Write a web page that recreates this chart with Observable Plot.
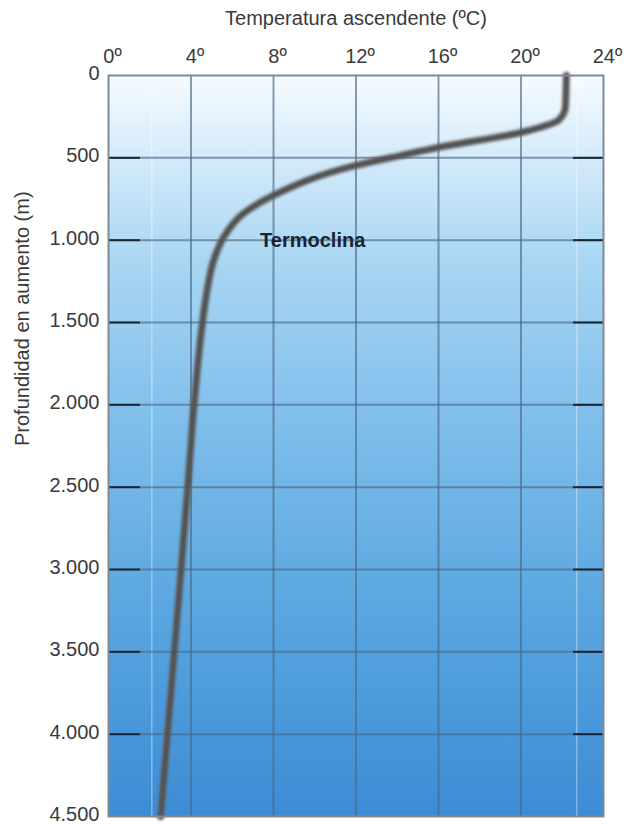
<!DOCTYPE html>
<html>
<head>
<meta charset="utf-8">
<script src="https://cdn.jsdelivr.net/npm/d3@7"></script>
<script src="https://cdn.jsdelivr.net/npm/@observablehq/plot@0.6"></script>
<style>
  html, body { margin: 0; padding: 0; background: #fff; }
  #chart svg { display: block; }
</style>
</head>
<body>
<div id="chart"></div>
<script>
// ---- data ----
const temperature = [22.2, 22.15, 21.8, 20.9, 20.0, 16.0, 14.2, 12.0, 8.0, 6.55, 5.58, 5.1, 4.78, 4.55, 4.40, 4.15, 3.84, 3.52, 3.19, 2.86, 2.53];
const depth       = [0, 194, 273, 316, 346, 437, 485, 546, 728, 837, 983, 1123, 1305, 1505, 1669, 2000, 2500, 3000, 3500, 4000, 4500];
const tempTicks = [0, 4, 8, 12, 16, 20, 24];
const depthTicks = [0, 500, 1000, 1500, 2000, 2500, 3000, 3500, 4000, 4500];
const tempGrid = [4, 8, 12, 16, 20];
const depthGrid = [500, 1000, 1500, 2000, 2500, 3000, 3500, 4000];
const faintLines = [2.1, 22.7];
const annotation = [{t: 7.35, d: 1000, label: "Termoclina"}];
const yTitle = ["Profundidad en aumento (m)"];
const gradientStops = [
  [0.00, "#f6fbff"],
  [0.25, "#a9d6f3"],
  [0.48, "#7dbdea"],
  [0.72, "#5aa6e0"],
  [1.00, "#3c8cd5"]
];

const profile = depth.map((d, i) => ({t: temperature[i], d}));
const esFmt = d3.formatLocale({decimal: ",", thousands: ".", grouping: [3], currency: ["", "€"]}).format(",");

const font = "'Liberation Sans', Arial, sans-serif";

const svg = Plot.plot({
  width: 634,
  height: 825,
  marginTop: 75,
  marginLeft: 108,
  marginRight: 31,
  marginBottom: 9,
  style: {fontFamily: font, fontSize: "20px", color: "#3a3a3a", background: "transparent"},
  x: {domain: [0, 24]},
  y: {domain: [0, 4500], reverse: true},
  marks: [
    Plot.frame({fill: "url(#seaGrad)", stroke: "none"}),
    Plot.ruleX(faintLines, {stroke: "#ffffff", strokeOpacity: 0.35, strokeWidth: 1.5}),
    Plot.ruleX(tempGrid, {stroke: "#4a6a86", strokeOpacity: 0.65, strokeWidth: 2}),
    Plot.ruleY(depthGrid, {stroke: "#4a6a86", strokeOpacity: 0.65, strokeWidth: 2}),
    Plot.axisY(depthGrid, {anchor: "left", tickSize: -32, tickFormat: () => "", stroke: "#1b2535", strokeWidth: 2, label: null}),
    Plot.axisY(depthGrid, {anchor: "right", tickSize: -31, tickFormat: () => "", stroke: "#1b2535", strokeWidth: 2, label: null}),
    Plot.axisY(depthTicks, {anchor: "left", tickSize: 0, tickPadding: 9, dy: -2, tickFormat: d => esFmt(d), fontSize: 20, fill: "#3a3a3a", label: null}),
    Plot.text(yTitle, {frameAnchor: "left", rotate: -90, dx: -86, fontSize: 20, fill: "#3a3a3a"}),
    Plot.axisX(tempTicks, {anchor: "top", tickSize: 0, tickPadding: 13, tickFormat: d => d + "º", dx: 4, fontSize: 20, fill: "#3a3a3a",
      label: "Temperatura ascendente (ºC)", labelAnchor: "center", labelOffset: 65, labelArrow: "none"}),
    Plot.line(profile, {x: "t", y: "d", curve: "monotone-y", stroke: "#6a6a6a", strokeOpacity: 0.45, strokeWidth: 9}),
    Plot.line(profile, {x: "t", y: "d", curve: "monotone-y", stroke: "#525252", strokeWidth: 5.5}),
    Plot.text(annotation, {x: "t", y: "d", text: "label", textAnchor: "start", fontWeight: "bold", fontSize: 20, fill: "#1c2233"}),
    Plot.frame({stroke: "#7f8a94", strokeWidth: 2})
  ]
});

// gradient definition for the water background
const ns = "http://www.w3.org/2000/svg";
const defs = document.createElementNS(ns, "defs");
const grad = document.createElementNS(ns, "linearGradient");
grad.setAttribute("id", "seaGrad");
grad.setAttribute("x1", "0"); grad.setAttribute("y1", "0");
grad.setAttribute("x2", "0"); grad.setAttribute("y2", "1");
for (const [o, c] of gradientStops) {
  const s = document.createElementNS(ns, "stop");
  s.setAttribute("offset", o);
  s.setAttribute("stop-color", c);
  grad.appendChild(s);
}
defs.appendChild(grad);
svg.insertBefore(defs, svg.firstChild);
const frameEl = svg.querySelector('[aria-label="frame"]');
if (frameEl) {
  frameEl.setAttribute("fill", "url(#seaGrad)");
  frameEl.querySelectorAll("rect").forEach(r => r.setAttribute("fill", "url(#seaGrad)"));
}
// blur the profile curve slightly
const filt = document.createElementNS(ns, "filter");
filt.setAttribute("id", "soft");
const blur = document.createElementNS(ns, "feGaussianBlur");
blur.setAttribute("stdDeviation", "0.8");
filt.appendChild(blur);
defs.appendChild(filt);
svg.querySelectorAll('[aria-label="line"]').forEach(g => g.setAttribute("filter", "url(#soft)"));

document.getElementById("chart").appendChild(svg);
</script>
</body>
</html>
